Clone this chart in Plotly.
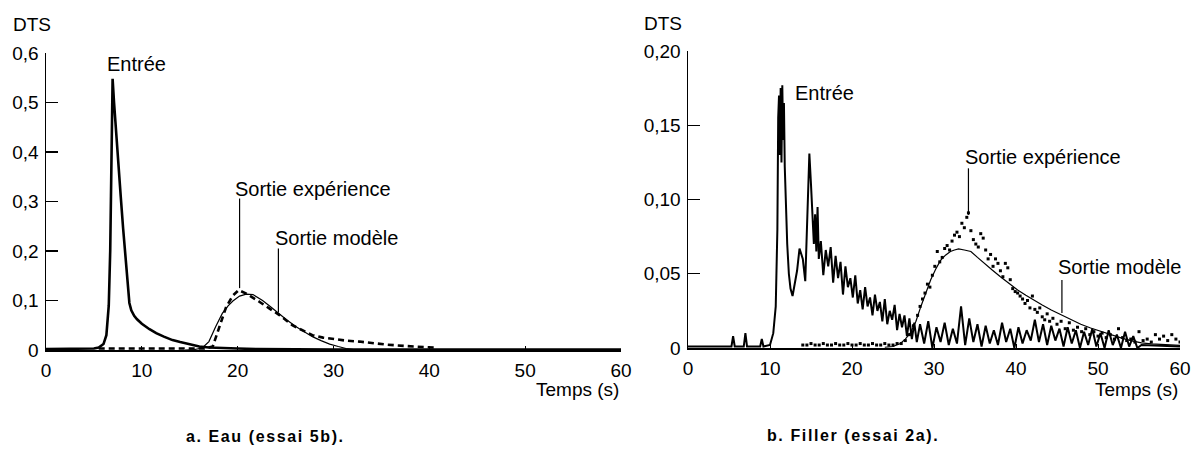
import plotly.graph_objects as go

# ---------------- Panel a : Eau (essai 5b) ----------------
a_in_t = [0, 2, 4, 5, 5.5, 6.0, 6.3, 6.55, 6.7, 6.85,
          6.95, 7.1, 7.3, 7.55, 7.8, 8.05, 8.3, 8.5, 8.7, 8.9,
          9.2, 9.5, 10.0, 10.8, 11.5, 12.3, 13.2, 14.0, 15.0, 16.0,
          17.0, 18.0, 19.0, 20.0, 22.0, 25.0, 30.0, 40.0, 50.0, 60.0]
a_in_y = [0.002, 0.002, 0.002, 0.003, 0.005, 0.012, 0.03, 0.09, 0.2, 0.4,
          0.548, 0.5, 0.44, 0.37, 0.31, 0.245, 0.18, 0.13, 0.095, 0.08,
          0.069, 0.062, 0.053, 0.042, 0.034, 0.027, 0.02, 0.016, 0.011, 0.007,
          0.005, 0.004, 0.0035, 0.003, 0.002, 0.0015, 0.001, 0.001, 0.001, 0.001]

a_exp_t = [5.5, 10, 15, 16.5, 17.4, 17.9, 18.3, 18.8, 19.5, 20.1,
           20.9, 21.6, 22.3, 23.3, 24.4, 25.7, 26.8, 27.8, 28.9, 29.9,
           31.3, 32.7, 34.0, 35.5, 37.5, 39.3, 40.5]
a_exp_y = [0.003, 0.003, 0.003, 0.003, 0.007, 0.034, 0.06, 0.087, 0.11, 0.121,
           0.114, 0.106, 0.097, 0.084, 0.07, 0.05, 0.039, 0.03, 0.025, 0.022,
           0.019, 0.017, 0.014, 0.011, 0.008, 0.006, 0.005]

a_mod_t = [14.5, 15.5, 16.3, 17.0, 17.7, 18.4, 19.0, 19.5, 20.2, 20.9,
           21.6, 22.6, 23.4, 24.2, 25.1, 26.1, 27.0, 27.8, 28.7, 29.6,
           30.5, 31.3, 32.5]
a_mod_y = [0.0, 0.001, 0.004, 0.017, 0.047, 0.074, 0.089, 0.099, 0.109, 0.113,
           0.112, 0.1, 0.088, 0.075, 0.061, 0.047, 0.036, 0.027, 0.019, 0.012,
           0.007, 0.003, 0.0]

a_yticks = [0, 0.1, 0.2, 0.3, 0.4, 0.5, 0.6]
a_yticktext = ["0", "0,1", "0,2", "0,3", "0,4", "0,5", "0,6"]

# ---------------- Panel b : Filler (essai 2a) ----------------
b_in_t = [0, 5.3, 5.5, 5.7, 6.8, 7.0, 7.2, 8.8, 9.0, 9.2,
          10.0, 10.4, 10.7, 10.9, 11.0, 11.1, 11.2, 11.3, 11.4, 11.5,
          11.6, 11.7, 11.8, 11.9, 12.1, 12.3, 12.5, 12.75, 13.0, 13.3,
          13.6, 13.8, 14.0, 14.3, 14.6, 14.8, 15.0, 15.2, 15.35, 15.5,
          15.65, 15.8, 15.95,
          16.2, 16.5, 16.8, 17.1, 17.4, 17.7, 18.0, 18.3, 18.6, 18.9,
          19.2, 19.5, 19.8, 20.1, 20.4, 20.7, 21.0, 21.3, 21.6, 21.9,
          22.2, 22.5, 22.8, 23.1, 23.4, 23.7, 24.0, 24.3, 24.6, 24.9,
          25.2, 25.5, 25.8, 26.1, 26.4, 26.7, 27.0, 27.3, 27.6, 27.9,
          28.3, 28.8, 29.3, 29.8, 30.3, 30.8, 31.3, 31.8, 32.3, 32.8,
          33.3, 33.8, 34.3, 34.8, 35.3, 35.8, 36.3, 36.8, 37.3, 37.8,
          38.3, 38.8, 39.3, 39.8, 40.3, 40.8, 41.3, 41.8, 42.3, 42.8,
          43.3, 43.8, 44.3, 44.8, 45.3, 45.8, 46.3, 46.8, 47.3, 47.8,
          48.3, 48.8, 49.3, 49.8, 50.3, 50.8, 51.3, 51.8, 52.3, 52.8,
          53.3, 53.8, 54.3, 54.8, 55.3, 60.0]
b_in_y = [0.001, 0.001, 0.008, 0.001, 0.001, 0.010, 0.001, 0.001, 0.006, 0.001,
          0.002, 0.01, 0.028, 0.08, 0.155, 0.17, 0.13, 0.175, 0.125, 0.177,
          0.14, 0.165, 0.122, 0.1, 0.07, 0.05, 0.04, 0.035, 0.042, 0.052,
          0.067, 0.063, 0.06, 0.045, 0.095, 0.131, 0.11, 0.085, 0.07, 0.09,
          0.065, 0.095, 0.06,
          0.072, 0.049, 0.066, 0.055, 0.068, 0.044, 0.062, 0.047, 0.058, 0.036,
          0.055, 0.041, 0.047, 0.034, 0.049, 0.03, 0.039, 0.026, 0.041, 0.028,
          0.034, 0.022, 0.036, 0.025, 0.031, 0.018, 0.033, 0.016, 0.025, 0.019,
          0.029, 0.012, 0.023, 0.014, 0.022, 0.008, 0.02, 0.006, 0.017, 0.004,
          0.016, 0.003, 0.018, 0.0, 0.014, 0.004, 0.017, 0.002, 0.013, 0.003,
          0.028, 0.002, 0.02, 0.004, 0.016, 0.001, 0.015, 0.003, 0.012, 0.002,
          0.017, 0.004, 0.013, 0.0, 0.014, 0.003, 0.012, 0.005, 0.019, 0.004,
          0.016, 0.002, 0.015, 0.005, 0.013, 0.001, 0.014, 0.003, 0.012, 0.0,
          0.011, 0.002, 0.013, 0.001, 0.01, 0.0, 0.012, 0.002, 0.009, 0.0,
          0.011, 0.001, 0.008, 0.0, 0.002, 0.001]

b_exp_t = [14.0, 14.5, 15.0, 15.5, 16.0, 16.5, 17.0, 17.5, 18.0, 18.5,
           19.0, 19.5, 20.0, 20.5, 21.0, 21.5, 22.0, 22.5, 23.0, 23.5,
           24.0, 24.5, 25.0, 25.5, 26.0, 26.5, 27.0, 27.5, 28.0, 28.3,
           28.6, 28.9, 29.2, 29.5, 29.8, 30.1, 30.4, 30.7, 31.0, 31.3,
           31.6, 31.9, 32.2, 32.5, 32.8, 33.1, 33.4, 33.7, 34.0, 34.2,
           34.5, 34.8, 35.1, 35.4, 35.7, 36.0, 36.3, 36.6, 36.9, 37.2,
           37.5, 37.8, 38.1, 38.4, 38.7, 39.0, 39.3, 39.6, 39.9, 40.2,
           40.5, 40.8, 41.1, 41.4, 41.7, 42.0, 42.3, 42.6, 42.9, 43.2,
           43.5, 43.8, 44.1, 44.5, 45.0, 45.5, 46.0, 46.5, 47.0, 47.5,
           48.0, 48.5, 49.0, 49.5, 50.0, 50.5, 51.0, 51.5, 52.0, 52.5,
           53.0, 53.5, 54.0, 54.5, 55.0, 55.5, 56.0, 56.5, 57.0, 57.5,
           58.0, 58.5, 59.0, 59.5, 60.0]
b_exp_y = [0.002, 0.002, 0.003, 0.002, 0.002, 0.003, 0.002, 0.002, 0.003, 0.002,
           0.002, 0.003, 0.002, 0.002, 0.003, 0.002, 0.002, 0.003, 0.002, 0.002,
           0.003, 0.002, 0.002, 0.003, 0.003, 0.005, 0.009, 0.015, 0.022, 0.028,
           0.033, 0.037, 0.043, 0.041, 0.049, 0.055, 0.065, 0.058, 0.061, 0.067,
           0.069, 0.066, 0.072, 0.076, 0.078, 0.075, 0.084, 0.081, 0.088, 0.091,
           0.079, 0.073, 0.07, 0.068, 0.077, 0.074, 0.066, 0.06, 0.063, 0.055,
           0.06, 0.057, 0.052, 0.048, 0.057, 0.054, 0.046, 0.04, 0.038, 0.037,
           0.035, 0.033, 0.03, 0.032, 0.027, 0.035, 0.026, 0.024, 0.027, 0.021,
           0.019, 0.023, 0.018, 0.02, 0.016, 0.018, 0.013, 0.017, 0.012, 0.014,
           0.011, 0.013, 0.009, 0.011, 0.008, 0.01, 0.007, 0.009, 0.006, 0.013,
           0.007, 0.005, 0.006, 0.004, 0.011, 0.005, 0.006, 0.004, 0.009, 0.006,
           0.008, 0.005, 0.009, 0.006, 0.004]

b_mod_t = [24.0, 25.0, 25.9, 26.5, 27.1, 27.8, 28.4, 29.0, 29.6, 30.2,
           30.8, 31.4, 32.0, 32.5, 33.0, 33.7, 34.5, 35.3, 36.1, 37.1,
           38.1, 39.1, 40.2, 41.2, 42.2, 43.2, 44.3, 45.5, 46.7, 47.9,
           49.1, 50.4, 51.6, 52.8, 54.0, 55.3, 56.5, 58.0, 60.0]
b_mod_y = [0.0005, 0.001, 0.003, 0.006, 0.010, 0.018, 0.028, 0.037, 0.046, 0.053,
           0.059, 0.0625, 0.065, 0.066, 0.0667, 0.066, 0.065, 0.061, 0.057, 0.0525,
           0.048, 0.0435, 0.039, 0.0355, 0.032, 0.029, 0.0256, 0.0225, 0.019, 0.016,
           0.0135, 0.011, 0.0088, 0.0068, 0.005, 0.0035, 0.0028, 0.0025, 0.0018]

b_yticks = [0, 0.05, 0.10, 0.15, 0.20]
b_yticktext = ["0", "0,05", "0,10", "0,15", "0,20"]

x_ticks = [0, 10, 20, 30, 40, 50, 60]
x_ticktext = ["0", "10", "20", "30", "40", "50", "60"]

FONT = "Liberation Sans, Arial, Helvetica, sans-serif"
BLACK = "#000000"

fig = go.Figure()

# panel a
fig.add_trace(go.Scatter(x=a_in_t, y=a_in_y, mode="lines", xaxis="x", yaxis="y",
                         line=dict(color=BLACK, width=2.6), name="Entrée"))
fig.add_trace(go.Scatter(x=a_exp_t, y=a_exp_y, mode="lines", xaxis="x", yaxis="y",
                         line=dict(color=BLACK, width=2.6, dash="6px,4px"),
                         name="Sortie expérience"))
fig.add_trace(go.Scatter(x=a_mod_t, y=a_mod_y, mode="lines", xaxis="x", yaxis="y",
                         line=dict(color=BLACK, width=1.2), name="Sortie modèle"))
# panel b
fig.add_trace(go.Scatter(x=b_in_t, y=b_in_y, mode="lines", xaxis="x2", yaxis="y2",
                         line=dict(color=BLACK, width=2.0), name="Entrée"))
fig.add_trace(go.Scatter(x=b_mod_t, y=b_mod_y, mode="lines", xaxis="x2", yaxis="y2",
                         line=dict(color=BLACK, width=1.2), name="Sortie modèle"))
fig.add_trace(go.Scatter(x=b_exp_t, y=b_exp_y, mode="markers", xaxis="x2", yaxis="y2",
                         marker=dict(color=BLACK, size=3, symbol="square"),
                         name="Sortie expérience"))

W, H = 1191, 453
axis_common = dict(showgrid=False, zeroline=False, showline=True, linecolor=BLACK,
                   linewidth=1.5, tickcolor=BLACK, ticks="inside", automargin=False,
                   tickfont=dict(family=FONT, size=19, color=BLACK), fixedrange=True)

fig.update_layout(
    template="none",
    width=W, height=H,
    margin=dict(l=0, r=0, t=0, b=0, pad=0),
    paper_bgcolor="white", plot_bgcolor="white",
    showlegend=False,
    font=dict(family=FONT, size=19, color=BLACK),
    xaxis=dict(domain=[46 / W, 621 / W], range=[0, 60], anchor="y",
               tickvals=x_ticks, ticktext=x_ticktext, ticklen=4, ticklabelstandoff=3,
               **axis_common),
    yaxis=dict(domain=[(H - 350) / H, (H - 53) / H], range=[0, 0.6], anchor="x",
               tickvals=a_yticks, ticktext=a_yticktext, ticklen=12, tickwidth=1.3,
               ticklabelstandoff=2, **axis_common),
    xaxis2=dict(domain=[688 / W, 1180 / W], range=[0, 60], anchor="y2",
                tickvals=x_ticks, ticktext=x_ticktext, ticklen=4, ticklabelstandoff=3,
                **axis_common),
    yaxis2=dict(domain=[(H - 348) / H, (H - 51) / H], range=[0, 0.2], anchor="x2",
                tickvals=b_yticks, ticktext=b_yticktext, ticklen=12, tickwidth=1.3,
                ticklabelstandoff=2, **axis_common),
)

# pointer lines
line_style = dict(color=BLACK, width=1.2)
pointers = [
    ("x", "y", 20.2, 0.125, 0.306),
    ("x", "y", 24.25, 0.076, 0.205),
    ("x2", "y2", 34.2, 0.0896, 0.121),
    ("x2", "y2", 45.6, 0.0236, 0.0458),
]
for xr, yr, xv, y0, y1 in pointers:
    fig.add_shape(type="line", xref=xr, yref=yr, x0=xv, x1=xv, y0=y0, y1=y1,
                  line=line_style)

# curve labels
labels = [
    ("x", "y", 9.4, 0.577, "Entrée", "center"),
    ("x", "y", 27.9, 0.326, "Sortie expérience", "center"),
    ("x", "y", 30.3, 0.227, "Sortie modèle", "center"),
    ("x2", "y2", 12.8, 0.172, "Entrée", "left"),
    ("x2", "y2", 43.3, 0.1286, "Sortie expérience", "center"),
    ("x2", "y2", 52.6, 0.0545, "Sortie modèle", "center"),
]
for xr, yr, xv, yv, txt, xa in labels:
    fig.add_annotation(xref=xr, yref=yr, x=xv, y=yv, text=txt, showarrow=False,
                       xanchor=xa, yanchor="middle",
                       font=dict(family=FONT, size=20, color=BLACK))

# axis titles & captions (paper coords)
paper_texts = [
    (32 / W, 1 - 25 / H, "DTS", "center", 19, False),
    (663 / W, 1 - 23 / H, "DTS", "center", 19, False),
    (621 / W, 1 - 389 / H, "Temps (s)", "right", 19, False),
    (1180 / W, 1 - 389 / H, "Temps (s)", "right", 19, False),
    (265 / W, 1 - 436 / H, "a. Eau (essai 5b).", "center", 16, True),
    (853 / W, 1 - 435 / H, "b. Filler (essai 2a).", "center", 16, True),
]
for xv, yv, txt, xa, sz, bold in paper_texts:
    t = txt
    if bold:
        t = '<b><span style="letter-spacing:1.6px">' + txt + '</span></b>'
    fig.add_annotation(xref="paper", yref="paper", x=xv, y=yv, text=t,
                       showarrow=False, xanchor=xa, yanchor="middle",
                       font=dict(family=FONT, size=sz, color=BLACK))

fig.write_html(
    "out.html",
    config={"displayModeBar": False, "staticPlot": True},
    post_script="document.body.style.margin='0';document.body.style.padding='0';"
                "document.body.style.overflow='hidden';",
)
